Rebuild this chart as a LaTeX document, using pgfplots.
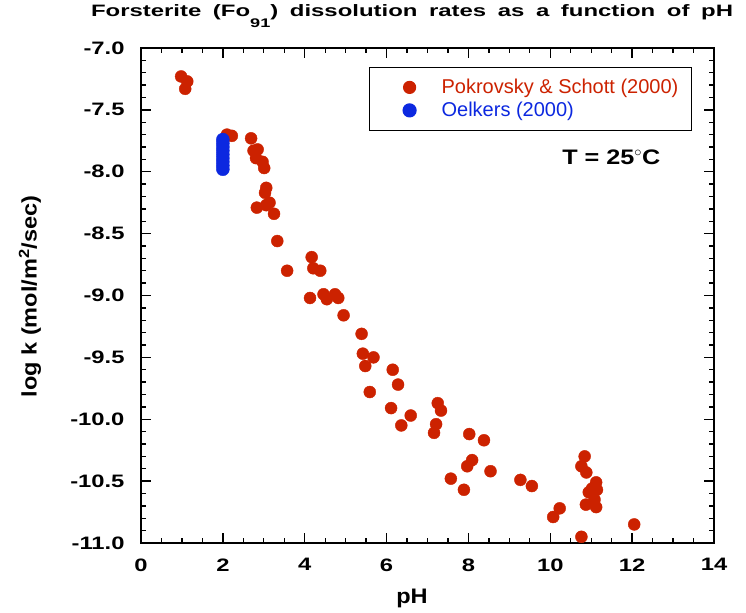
\documentclass[border=0pt]{standalone}
\usepackage{fontspec}
\setmainfont{Liberation Sans}
\newfontfamily\widefont{Liberation Sans}[FakeStretch=1.32]
\newfontfamily\titlefont{Liberation Sans}[FakeStretch=1.45]
\newfontfamily\labfont{Liberation Sans}[FakeStretch=1.12]
\newfontfamily\tfont{Liberation Sans}[FakeStretch=1.2]
\usepackage{pgfplots}
\pgfplotsset{compat=1.18}
\definecolor{pkred}{RGB}{204,34,0}
\definecolor{oblue}{RGB}{12,40,224}
\begin{document}
\begin{tikzpicture}
\begin{axis}[
  scale only axis,
  width=573pt, height=495pt,
  xmin=0, xmax=14, ymin=-11, ymax=-7,
  xtick={0,2,...,14}, minor x tick num=3,
  ytick={-11,-10.5,...,-7}, minor y tick num=4,
  tick align=inside,
  major tick length=10pt, minor tick length=5pt,
  every tick/.style={black, line width=1.3pt},
  axis line style={line width=1.6pt},
  /pgf/number format/assume math mode=true,
  yticklabel style={/pgf/number format/.cd, fixed, fixed zerofill, precision=1},
  xticklabel style={/pgf/number format/.cd, fixed, precision=0},
  tick label style={font=\widefont\bfseries\fontsize{18}{18}\selectfont},
  xticklabel shift=12pt, yticklabel shift=13pt,
  legend style={at={(rel axis cs:0.3979,0.962)}, anchor=north west,
    draw=black, line width=1.2pt, font=\fontsize{20}{22}\selectfont,
    inner xsep=11pt, inner ysep=10pt, row sep=3pt, column sep=0pt,
    nodes={inner xsep=2pt, inner ysep=2pt}},
  legend cell align=left,
  legend image code/.code={\path[draw=none, fill=none] (0pt,0pt) -- (59pt,0pt); \path[#1, draw=none] plot[only marks] coordinates {(29pt,0pt)};},
  clip=false,
]
\addplot[only marks, mark=*, mark size=6pt, color=pkred, mark options={draw=pkred, fill=pkred}] coordinates {
(0.98,-7.23) (1.13,-7.27) (1.08,-7.33) (2.10,-7.70) (2.22,-7.71)
(2.69,-7.73) (2.75,-7.83) (2.85,-7.82) (2.81,-7.89) (2.97,-7.92)
(3.01,-7.97) (3.06,-8.13) (3.03,-8.17) (3.14,-8.25) (3.06,-8.27)
(2.83,-8.29) (3.25,-8.34) (3.33,-8.56) (3.57,-8.80) (4.17,-8.69)
(4.21,-8.78) (4.38,-8.80) (4.13,-9.02) (4.46,-8.99) (4.54,-9.03)
(4.74,-8.99) (4.82,-9.02) (4.95,-9.16) (5.39,-9.31) (5.42,-9.47)
(5.68,-9.50) (5.48,-9.57) (5.59,-9.78) (6.15,-9.60) (6.28,-9.72)
(6.11,-9.91) (6.59,-9.97) (6.36,-10.05) (7.25,-9.87) (7.33,-9.93)
(7.21,-10.04) (7.16,-10.11) (8.02,-10.12) (8.38,-10.17) (8.09,-10.33)
(7.97,-10.38) (8.54,-10.42) (7.57,-10.48) (7.89,-10.57) (9.27,-10.49)
(9.55,-10.54) (10.23,-10.72) (10.07,-10.79) (10.76,-10.95) (10.84,-10.30)
(10.76,-10.38) (10.88,-10.43) (11.12,-10.51) (11.14,-10.57) (10.94,-10.59)
(11.02,-10.56) (11.08,-10.65) (10.87,-10.69) (11.12,-10.71) (12.05,-10.85)
};
\addlegendentry{\textcolor{pkred}{Pokrovsky \& Schott (2000)}}
\addplot[only marks, mark=*, mark size=6.5pt, color=oblue, mark options={draw=oblue, fill=oblue}] coordinates {
(2.0,-7.74) (2.0,-7.77) (2.0,-7.80) (2.0,-7.83) (2.0,-7.86)
(2.0,-7.89) (2.0,-7.92) (2.0,-7.95) (2.0,-7.98)
};
\addlegendentry{\textcolor{oblue}{Oelkers (2000)}}
\node[font=\tfont\bfseries\fontsize{21}{21}\selectfont] at (axis cs:11.49,-7.88) {T = 25\textsuperscript{$\circ$}C};
\node[font=\titlefont\bfseries\fontsize{16.5}{16.5}\selectfont, anchor=base] at ([yshift=31pt]rel axis cs:0.473,1) {Forsterite\hspace{0.3em} (Fo\raisebox{-11pt}{\fontsize{12.5}{12.5}\selectfont 91}) \hspace{0.3em}dissolution\hspace{0.3em} rates\hspace{0.3em} as\hspace{0.3em} a\hspace{0.3em} function\hspace{0.3em} of\hspace{0.3em} pH};
\node[font=\labfont\bfseries\fontsize{21}{21}\selectfont] at ([yshift=-55pt]rel axis cs:0.473,0) {pH};
\node[font=\labfont\bfseries\fontsize{21}{21}\selectfont, rotate=90] at ([xshift=-111pt]rel axis cs:0,0.498) {log k (mol/m\textsuperscript{2}/sec)};
\end{axis}
\pgfresetboundingbox
\path[use as bounding box] ([xshift=-141pt,yshift=-70pt]current axis.south west) rectangle ([xshift=32pt,yshift=48pt]current axis.north east);
\end{tikzpicture}
\end{document}
